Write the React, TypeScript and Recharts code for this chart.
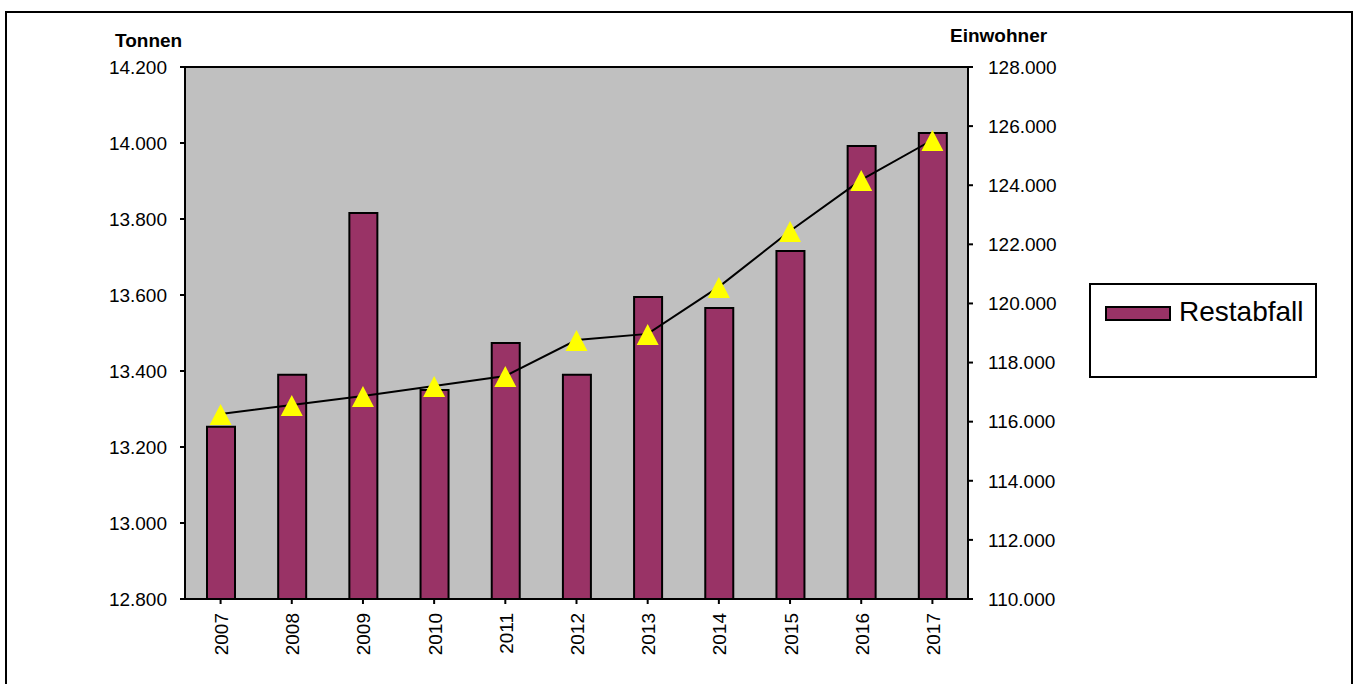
import { ComposedChart, Bar, Line, XAxis, YAxis, CartesianGrid, ReferenceLine, Legend } from 'recharts';

const years = ['2007', '2008', '2009', '2010', '2011', '2012', '2013', '2014', '2015', '2016', '2017'];
const restabfall = [13253, 13390, 13816, 13350, 13474, 13390, 13595, 13566, 13716, 13992, 14026];
const einwohner = [116260, 116560, 116870, 117210, 117545, 118760, 118970, 120560, 122450, 124180, 125530];

const leftTicks = [12800, 13000, 13200, 13400, 13600, 13800, 14000, 14200];
const rightTicks = [110000, 112000, 114000, 116000, 118000, 120000, 122000, 124000, 126000, 128000];

const data = years.map((year, i) => ({ year, restabfall: restabfall[i], einwohner: einwohner[i] }));

const FONT = '"Liberation Sans", Arial, sans-serif';

// German thousands separator: 14.200
const fmt = (v: number) => String(v).replace(/\B(?=(\d{3})+(?!\d))/g, '.');

const Triangle = (props: any) => {
  const { cx, cy } = props;
  if (cx == null || cy == null) return null;
  return <polygon points={`${cx},${cy - 10} ${cx + 11},${cy + 11} ${cx - 11},${cy + 11}`} fill="#ffff00" />;
};

const YearTick = (props: any) => {
  const { x, y, payload } = props;
  return (
    <text
      transform={`translate(${x + 1},${y + 7}) rotate(-90)`}
      textAnchor="end"
      dominantBaseline="central"
      fontSize={19}
      fontFamily={FONT}
      fill="#000"
    >
      {payload.value}
    </text>
  );
};

const LegendBox = () => (
  <div
    style={{
      width: 224,
      height: 91,
      border: '2px solid #000',
      background: '#fff',
      fontFamily: FONT,
      boxSizing: 'content-box',
      position: 'relative',
    }}
  >
    <div
      style={{
        position: 'absolute',
        left: 14,
        top: 21,
        width: 62,
        height: 11,
        background: '#993366',
        border: '2px solid #000',
      }}
    />
    <div style={{ position: 'absolute', left: 88, top: 11, fontSize: 28, color: '#000', lineHeight: '32px' }}>
      Restabfall
    </div>
  </div>
);

export default function App() {
  return (
    <div style={{ position: 'absolute', left: 0, top: 0, width: 1357, height: 684, background: '#fff', overflow: 'hidden' }}>
      <div
        style={{
          position: 'absolute',
          left: 5,
          top: 11,
          width: 1344,
          height: 720,
          border: '2px solid #000',
        }}
      />
      <div style={{ position: 'absolute', left: 115, top: 30, fontFamily: FONT, fontWeight: 'bold', fontSize: 19 }}>
        Tonnen
      </div>
      <div style={{ position: 'absolute', left: 950, top: 25, fontFamily: FONT, fontWeight: 'bold', fontSize: 19 }}>
        Einwohner
      </div>
      <div style={{ position: 'absolute', left: 0, top: 0 }}>
        <ComposedChart
          width={1357}
          height={684}
          data={data}
          margin={{ top: 67, right: 289, bottom: 25, left: 85 }}
        >
          <CartesianGrid fill="#c0c0c0" fillOpacity={1} horizontal={false} vertical={false} yAxisId="left" />
          <XAxis
            dataKey="year"
            height={60}
            axisLine={{ stroke: '#000', strokeWidth: 2 }}
            tickLine={{ stroke: '#000', strokeWidth: 2 }}
            tickSize={5}
            tick={<YearTick />}
            interval={0}
          />
          <YAxis
            yAxisId="left"
            width={100}
            domain={[12800, 14200]}
            ticks={leftTicks}
            tickFormatter={fmt}
            axisLine={{ stroke: '#000', strokeWidth: 2 }}
            tickLine={{ stroke: '#000', strokeWidth: 2 }}
            tickSize={5}
            tickMargin={13}
            tick={{ fontSize: 19, fill: '#000', fontFamily: FONT }}
            allowDataOverflow
          />
          <YAxis
            yAxisId="right"
            orientation="right"
            width={100}
            domain={[110000, 128000]}
            ticks={rightTicks}
            tickFormatter={fmt}
            axisLine={{ stroke: '#000', strokeWidth: 2 }}
            tickLine={{ stroke: '#000', strokeWidth: 2 }}
            tickSize={5}
            tickMargin={15}
            tick={{ fontSize: 19, fill: '#000', fontFamily: FONT, textAnchor: 'start' }}
            allowDataOverflow
          />
          <ReferenceLine yAxisId="left" y={14200} stroke="#000" strokeWidth={2} />
          <Bar
            yAxisId="left"
            dataKey="restabfall"
            name="Restabfall"
            fill="#993366"
            stroke="#000"
            strokeWidth={2}
            barSize={28}
            isAnimationActive={false}
          />
          <Line
            yAxisId="right"
            dataKey="einwohner"
            stroke="#000"
            strokeWidth={2}
            dot={<Triangle />}
            activeDot={false}
            legendType="none"
            isAnimationActive={false}
          />
          <Legend
            layout="horizontal"
            verticalAlign="middle"
            align="center"
            content={<LegendBox />}
            wrapperStyle={{ position: 'absolute', left: 1089, top: 283, width: 228, bottom: 'auto' }}
          />
        </ComposedChart>
      </div>
    </div>
  );
}
